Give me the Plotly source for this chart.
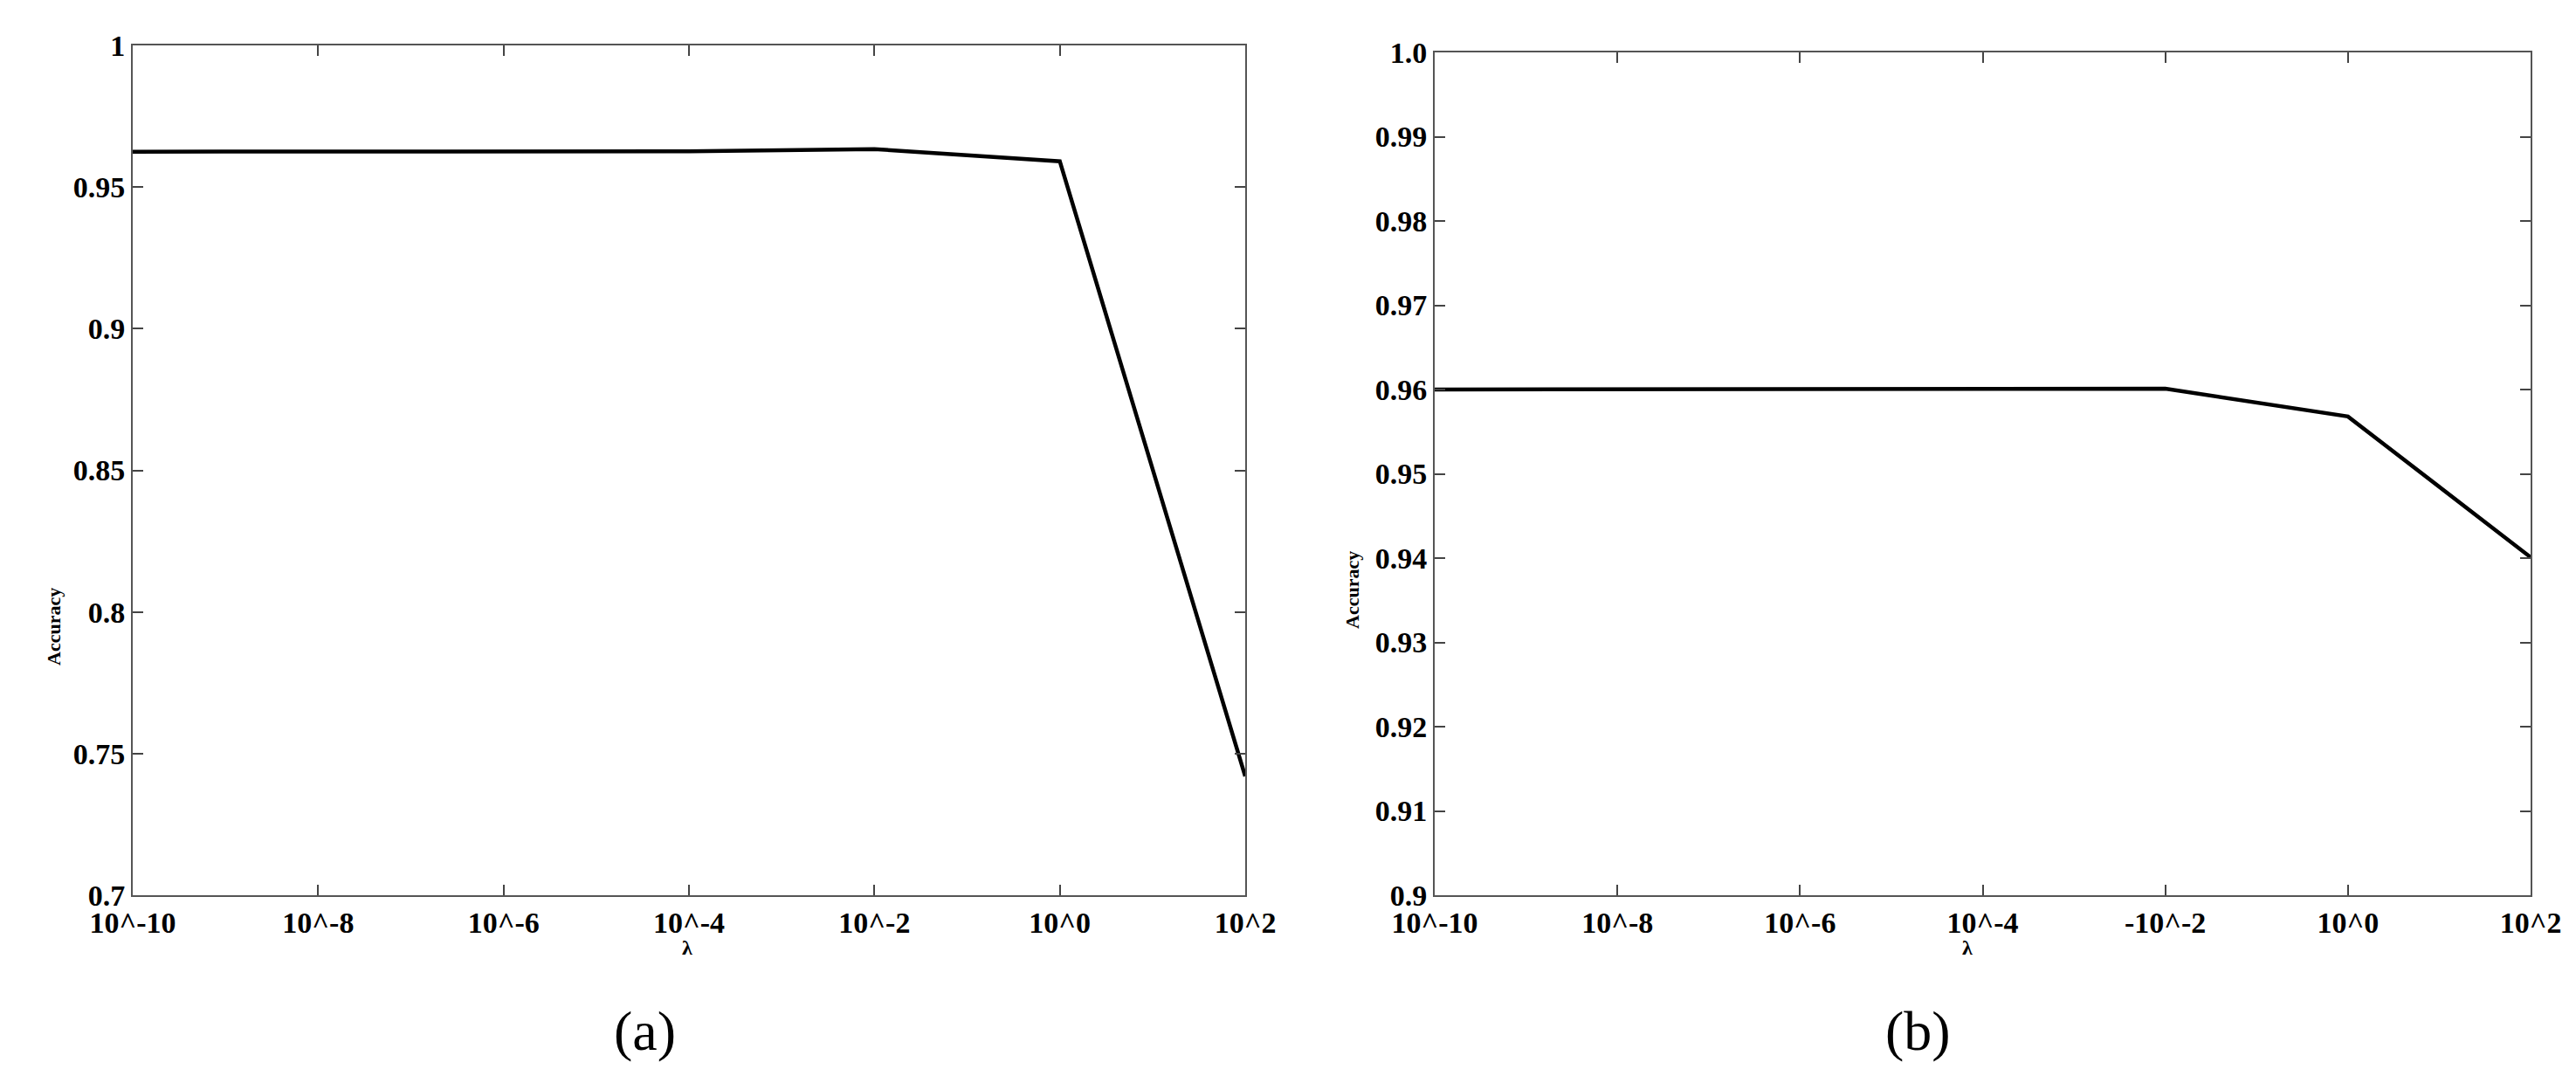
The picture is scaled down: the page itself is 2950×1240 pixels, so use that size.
import plotly.graph_objects as go

# ---- data ----
lambda_vals = [1e-10, 1e-8, 1e-6, 1e-4, 1e-2, 1e0, 1e2]
x_ticktext_a = ["10^-10", "10^-8", "10^-6", "10^-4", "10^-2", "10^0", "10^2"]
x_ticktext_b = ["10^-10", "10^-8", "10^-6", "10^-4", "-10^-2", "10^0", "10^2"]

acc_a = [0.9625, 0.9625, 0.9625, 0.9626, 0.9634, 0.9591, 0.742]
acc_b = [0.9600, 0.9600, 0.9600, 0.9600, 0.9601, 0.9568, 0.9401]

y_tickvals_a = [0.7, 0.75, 0.8, 0.85, 0.9, 0.95, 1.0]
y_ticktext_a = ["0.7", "0.75", "0.8", "0.85", "0.9", "0.95", "1"]
y_tickvals_b = [0.90, 0.91, 0.92, 0.93, 0.94, 0.95, 0.96, 0.97, 0.98, 0.99, 1.0]
y_ticktext_b = ["0.9", "0.91", "0.92", "0.93", "0.94", "0.95", "0.96", "0.97", "0.98", "0.99", "1.0"]

W, H = 2950, 1240
SERIF = "Liberation Serif"

fig = go.Figure()
fig.add_trace(go.Scatter(x=lambda_vals, y=acc_a, mode="lines", xaxis="x", yaxis="y",
                         line=dict(color="black", width=4.5), showlegend=False))
fig.add_trace(go.Scatter(x=lambda_vals, y=acc_b, mode="lines", xaxis="x2", yaxis="y2",
                         line=dict(color="black", width=4.5), showlegend=False))

def px_x(p):
    return p / W

def px_y(p):
    return 1 - p / H

tickfont = dict(family=SERIF, size=34, color="black", weight="bold")
common_axis = dict(showline=True, linecolor="#555555", linewidth=2, mirror="ticks",
                   ticks="inside", ticklen=12, tickwidth=2, tickcolor="#444444",
                   showgrid=False, zeroline=False, tickfont=tickfont, automargin=False)

fig.update_layout(
    template="none",
    width=W, height=H, margin=dict(l=0, r=0, t=0, b=0, autoexpand=False),
    paper_bgcolor="white", plot_bgcolor="white",
    xaxis=dict(domain=[px_x(144), px_x(1418)], type="log", range=[-10, 2],
               tickvals=lambda_vals, ticktext=x_ticktext_a, anchor="y", **common_axis),
    yaxis=dict(domain=[px_y(1017), px_y(44)], range=[0.7, 1.0],
               tickvals=y_tickvals_a, ticktext=y_ticktext_a, anchor="x", **common_axis),
    xaxis2=dict(domain=[px_x(1635), px_x(2890)], type="log", range=[-10, 2],
                tickvals=lambda_vals, ticktext=x_ticktext_b, anchor="y2", **common_axis),
    yaxis2=dict(domain=[px_y(1017), px_y(52)], range=[0.9, 1.0],
                tickvals=y_tickvals_b, ticktext=y_ticktext_b, anchor="x2", **common_axis),
)

title_font = dict(family=SERIF, size=22, color="black", weight="bold")
lam_font = dict(family=SERIF, size=24, color="black", weight="bold")
cap_font = dict(family=SERIF, size=64, color="black")
ann = [
    dict(text="Accuracy", x=px_x(53), y=px_y(710), textangle=-90, font=title_font),
    dict(text="Accuracy", x=px_x(1540), y=px_y(668), textangle=-90, font=title_font),
    dict(text="λ", x=px_x(779), y=px_y(1077), font=lam_font),
    dict(text="λ", x=px_x(2245), y=px_y(1077), font=lam_font),
    dict(text="(a)", x=px_x(730), y=px_y(1172), font=cap_font),
    dict(text="(b)", x=px_x(2188), y=px_y(1172), font=cap_font),
]
for a in ann:
    fig.add_annotation(xref="paper", yref="paper", showarrow=False,
                       xanchor="center", yanchor="middle", **a)

fig.write_html("out.html")
